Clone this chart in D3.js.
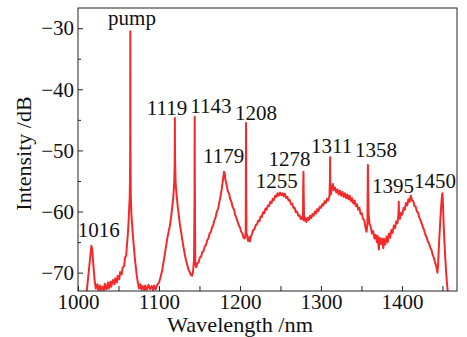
<!DOCTYPE html>
<html><head><meta charset="utf-8">
<script src="https://cdn.jsdelivr.net/npm/d3@7"></script>
<style>
html,body{margin:0;padding:0;background:#fff;}
svg text{font-family:"Liberation Serif","Times New Roman",serif;fill:#111;}
</style></head>
<body><svg id="c" width="467" height="337"></svg>
<script>
// ---- data ----
const wavelength = [1008,1011,1013,1015,1016.5,1017.5,1019,1020.5,1022,1024,1025,1027,1028,1030,1032,1033,1035,1037,1038,1040,1041,1043,1045,1046,1048,1049,1051,1052,1054,1055,1057,1058,1059.5,1060.5,1061.5,1062.5,1063.3,1063.9,1064.4,1064.6,1064.8,1065.2,1066,1067,1068,1069,1070,1071,1072.5,1074,1075.5,1077,1078.5,1080,1082,1083,1085,1087,1089,1091,1093,1094,1096,1098,1100,1102,1104,1106,1108,1110,1112,1113.5,1115,1116.5,1117.7,1118.8,1119.4,1119.6,1119.8,1120.5,1121.5,1123,1124.5,1126,1127.5,1129,1130.5,1132,1133.5,1135,1136.5,1138,1139.5,1140.8,1142,1143.3,1143.9,1144.1,1144.3,1144.8,1146,1147.5,1149,1150.5,1152,1153.5,1155,1156.5,1158,1159.5,1161,1162.5,1164,1165.5,1167,1168.5,1170,1171.5,1173,1174.5,1176,1177.5,1179,1180.3,1181,1182,1183.5,1185,1186.5,1188,1189.5,1191,1192.5,1194,1195.5,1197,1198.5,1200,1201.5,1203,1204.5,1206,1207.1,1207.3,1207.5,1207.7,1208,1209,1210,1211.3,1212.3,1213.5,1215,1216.5,1218,1219.5,1221,1222.5,1224,1225.5,1227,1228.5,1230,1231.5,1233,1234.5,1236,1237.5,1239,1240.5,1242,1243.5,1245,1246.5,1248,1249.5,1251,1252.5,1254,1255.5,1257,1258.5,1260,1261.5,1263,1264.5,1266,1267.5,1269,1270.5,1272,1273.5,1275,1276.5,1277.8,1278.1,1278.4,1278.7,1279.2,1280.5,1282,1283.5,1285,1286.5,1288,1289.5,1291,1292.5,1294,1295.5,1297,1298.5,1300,1301.5,1303,1304.5,1306,1307.5,1309,1310.5,1311.1,1311.3,1311.5,1312.3,1313.5,1314.8,1316,1317.5,1319,1320.5,1322,1323.5,1325,1326.5,1328,1329.5,1331,1332.5,1334,1335.5,1337,1338.5,1340,1341.5,1343,1344.5,1346,1347.5,1349,1350.5,1352,1353.5,1355,1356.3,1357.4,1357.8,1358,1358.3,1358.9,1360,1361.5,1363,1364.5,1366,1367.5,1369,1370,1371.5,1372.5,1374,1375.5,1377,1378,1379.5,1381,1382.5,1384,1385.5,1387,1388.5,1390,1391.5,1393,1394.5,1395.7,1396.1,1396.5,1397.5,1399,1400.5,1402,1403.5,1405,1406.5,1408,1409.5,1411,1412.5,1414,1415.5,1417,1418.5,1420,1421.5,1423,1424.5,1426,1427.5,1429,1430.5,1432,1433.5,1435,1436.5,1438,1439.5,1441,1442.5,1443.8,1444.7,1445.5,1446.5,1447.5,1448.5,1449.5,1450,1450.6,1451.5,1452.5,1453.5,1454.5,1455.5,1456.5,1458];
const intensity = [-74,-72.8,-70.2,-67.6,-65.6,-66.2,-68.8,-71.2,-72.6,-71.9,-72.8,-72.1,-72.9,-72.3,-72.9,-71.8,-72.7,-71.6,-72.6,-71.5,-72.3,-71.2,-71.9,-70.9,-71.6,-70.5,-71.1,-69.9,-70.3,-69.2,-68.9,-67.6,-67.2,-65.4,-63.8,-61.6,-59.2,-57.6,-52,-30.5,-50,-57.5,-60.6,-62.4,-64.3,-65.8,-67.4,-68.6,-70.4,-71.7,-72.6,-71.9,-72.8,-72.2,-72.9,-72.1,-72.8,-72.0,-72.7,-72.2,-72.9,-72.1,-72.7,-72.0,-71.6,-70.7,-69.6,-68.0,-66.3,-64.6,-63.2,-62.3,-60.9,-59.1,-57.6,-55.3,-52,-44.7,-51,-55.2,-56.9,-59.0,-60.7,-62.3,-63.5,-64.8,-66.0,-67.1,-68.0,-68.8,-69.5,-69.9,-70.4,-70.5,-69.9,-67.8,-58,-44.5,-56,-68.6,-69.1,-68.4,-68.3,-67.5,-67.4,-66.6,-66.5,-65.7,-65.5,-64.7,-64.4,-63.6,-63.4,-62.6,-62.2,-61.4,-60.9,-60.0,-59.6,-58.5,-57.5,-56.3,-54.8,-53.5,-53.6,-54.8,-55.6,-56.7,-57.0,-58.0,-58.4,-59.3,-59.6,-60.5,-61.0,-61.6,-62.2,-62.6,-63.3,-63.6,-64.3,-64.4,-63.5,-55,-45.5,-56,-63.5,-64.0,-64.8,-64.2,-64.9,-64.1,-63.6,-63.0,-62.9,-62.2,-62.1,-61.5,-61.6,-60.8,-60.9,-60.1,-60.3,-59.5,-59.7,-59.0,-59.1,-58.4,-58.6,-57.9,-58.1,-57.4,-57.6,-57.0,-57.4,-56.9,-57.3,-57.0,-57.5,-57.1,-57.8,-57.6,-58.2,-58.1,-58.8,-58.7,-59.4,-59.4,-60.1,-60.0,-60.7,-60.6,-61.2,-60.9,-61.3,-56,-53.5,-57,-61.5,-61.0,-61.7,-61.0,-61.4,-60.7,-61.1,-60.4,-60.7,-60.0,-60.3,-59.6,-59.9,-59.2,-59.4,-58.8,-59.0,-58.3,-58.6,-57.9,-58.2,-57.5,-55,-51.1,-55,-57.2,-56.2,-55.5,-56.5,-56.1,-56.9,-56.4,-57.2,-56.6,-57.4,-56.8,-57.6,-57.0,-57.8,-57.2,-58.0,-57.4,-58.3,-57.8,-58.7,-58.2,-59.1,-58.8,-59.7,-59.4,-60.4,-60.3,-61.2,-61.4,-62.6,-63.3,-62.0,-55,-52.4,-56,-60.5,-62.0,-62.5,-63.6,-63.2,-64.4,-63.8,-65.0,-64.0,-66.2,-64.3,-65.3,-64.4,-66.0,-64.5,-65.4,-64.1,-65.0,-63.6,-64.3,-63.0,-63.5,-62.3,-62.7,-61.6,-61.9,-60.5,-58.4,-60.8,-61.2,-60.2,-60.5,-59.4,-59.7,-58.6,-59.0,-58.0,-58.4,-57.4,-58.2,-58.3,-59.1,-59.2,-60.0,-60.2,-61.0,-61.4,-62.0,-62.6,-63.1,-63.8,-64.2,-64.9,-65.2,-65.9,-66.3,-67.1,-67.6,-68.4,-69.0,-70.0,-68.6,-66.0,-63.5,-61.2,-59.0,-57.3,-57.0,-58.5,-62.0,-65.0,-67.5,-69.8,-71.5,-73.0,-75];

const xMajorTicks = [1000,1100,1200,1300,1400];
const xMinorTicks = [1050,1150,1250,1350,1450];
const yMajorTicks = [-70,-60,-50,-40,-30];
const yMinorTicks = [-65,-55,-45,-35];

const peakLabels = ["pump","1016","1119","1143","1179","1208","1255","1278","1311","1358","1395","1450"];
const peakLabelWl = [1066.7,1025.6,1109.9,1164.2,1179.9,1219.8,1245.4,1261.2,1313.3,1368.0,1389.0,1440.9];
const peakLabelDb = [-29.4,-64.1,-44.2,-43.9,-52.0,-45.1,-56.1,-52.6,-50.4,-51.1,-56.9,-56.2];

// ---- chart ----
const svg = d3.select("#c");
const L = 78, R = 457, T = 8, B = 291;
const x = d3.scaleLinear().domain([1000, 1468]).range([L, R]);
const y = d3.scaleLinear().domain([-73, -26.7]).range([B, T]);

svg.append("defs").append("clipPath").attr("id","clip")
  .append("rect").attr("x",L).attr("y",T).attr("width",R-L).attr("height",B-T);

const pts = wavelength.map((w,i)=>[w,intensity[i]]);
svg.append("path").datum(pts)
  .attr("clip-path","url(#clip)")
  .attr("fill","none").attr("stroke","#f42a2a").attr("stroke-width",2)
  .attr("stroke-linejoin","round")
  .attr("d", d3.line().x(d=>x(d[0])).y(d=>y(d[1])));

// frame
svg.append("rect").attr("x",L).attr("y",T).attr("width",R-L).attr("height",B-T)
  .attr("fill","none").attr("stroke","#222").attr("stroke-width",1);

// x axis
const xAx = svg.append("g").attr("transform",`translate(0,${B})`)
  .call(d3.axisBottom(x).tickValues(xMajorTicks).tickSize(-5).tickPadding(3).tickFormat(d3.format("d")));
const xMin = svg.append("g").attr("transform",`translate(0,${B})`)
  .call(d3.axisBottom(x).tickValues(xMinorTicks).tickSize(-5).tickFormat(""));
// y axis
const yAx = svg.append("g").attr("transform",`translate(${L},0)`)
  .call(d3.axisLeft(y).tickValues(yMajorTicks).tickSize(-5).tickPadding(4).tickFormat(d=>"\u2212"+Math.abs(d)));
const yMin = svg.append("g").attr("transform",`translate(${L},0)`)
  .call(d3.axisLeft(y).tickValues(yMinorTicks).tickSize(-3).tickFormat(""));

[xAx,xMin,yAx,yMin].forEach(g=>{
  g.select(".domain").remove();
  g.selectAll("line").attr("stroke","#222");
  g.selectAll("text").attr("font-size",21).attr("font-family","Liberation Serif, serif").attr("fill","#111");
});
xAx.selectAll("text").attr("dy","0.71em");

// axis titles
svg.append("text").attr("x",240).attr("y",332).attr("text-anchor","middle")
  .attr("font-size",21).attr("textLength",146).attr("lengthAdjust","spacingAndGlyphs")
  .text("Wavelength /nm");
svg.append("text").attr("transform",`translate(31,${(T+B)/2+4}) rotate(-90)`)
  .attr("text-anchor","middle").attr("font-size",22).text("Intensity /dB");

// peak labels
svg.append("g").selectAll("text").data(peakLabels).join("text")
  .attr("x",(d,i)=>x(peakLabelWl[i])).attr("y",(d,i)=>y(peakLabelDb[i]))
  .attr("text-anchor","middle").attr("font-size",21).text(d=>d);
</script></body></html>
